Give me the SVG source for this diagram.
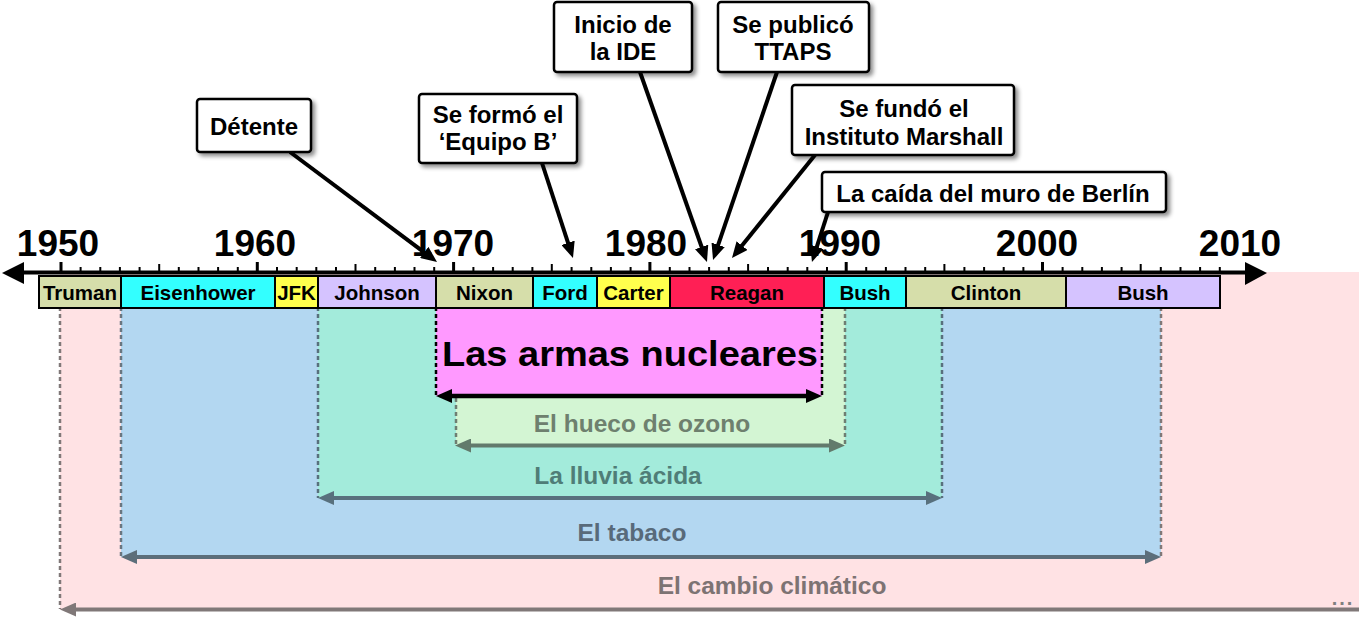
<svg xmlns="http://www.w3.org/2000/svg" width="1359" height="618" viewBox="0 0 1359 618">
<style>
text{font-family:"Liberation Sans",Arial,sans-serif;font-weight:bold;text-anchor:middle}
.yr{font-size:37px;fill:#000}
.pres rect{stroke:#000;stroke-width:2}
.pres text{font-size:20.5px;fill:#000}
.co rect{fill:#fff;stroke:#000;stroke-width:2.5;filter:url(#sh)}
.co text{font-size:24px;fill:#000}
.span{font-size:24.5px}
.dash{fill:none;stroke-width:2.5;stroke-dasharray:4 3}
.conn line{stroke:#000;stroke-width:4}
</style>
<defs>
<filter id="sh" x="-10%" y="-20%" width="130%" height="150%">
<feDropShadow dx="3" dy="3" stdDeviation="2" flood-color="#000" flood-opacity="0.45"/>
</filter>
<marker id="ab" markerUnits="userSpaceOnUse" markerWidth="16" markerHeight="14" viewBox="0 0 16 14" refX="8" refY="7" orient="auto-start-reverse"><path d="M0,0 L16,7 L0,14 z" fill="#000"/></marker>
<marker id="ao" markerUnits="userSpaceOnUse" markerWidth="16" markerHeight="14" viewBox="0 0 16 14" refX="8" refY="7" orient="auto-start-reverse"><path d="M0,0 L16,7 L0,14 z" fill="#627A6C"/></marker>
<marker id="al" markerUnits="userSpaceOnUse" markerWidth="16" markerHeight="14" viewBox="0 0 16 14" refX="8" refY="7" orient="auto-start-reverse"><path d="M0,0 L16,7 L0,14 z" fill="#58707D"/></marker>
<marker id="at" markerUnits="userSpaceOnUse" markerWidth="16" markerHeight="14" viewBox="0 0 16 14" refX="8" refY="7" orient="auto-start-reverse"><path d="M0,0 L16,7 L0,14 z" fill="#5C6E7A"/></marker>
<marker id="ac" markerUnits="userSpaceOnUse" markerWidth="16" markerHeight="14" viewBox="0 0 16 14" refX="8" refY="7" orient="auto-start-reverse"><path d="M0,0 L16,7 L0,14 z" fill="#807878"/></marker>
</defs>

<!-- Spans -->
<g id="span-cambio">
<rect x="60" y="272" width="1299" height="338" fill="#FFE2E4"/>
<line class="dash" x1="60" y1="300" x2="60" y2="609" stroke="#807878"/>
<line x1="68" y1="609.5" x2="1359" y2="609.5" stroke="#807878" stroke-width="4" marker-start="url(#ac)"/>
<text class="span" x="772" y="594" fill="#7D7373">El cambio climático</text>
<text x="1343" y="605" font-size="20" letter-spacing="2" fill="#7F7F7F">...</text>
</g>
<g id="span-tabaco">
<rect x="121" y="300" width="1040" height="257" fill="#B3D7F1"/>
<line class="dash" x1="121" y1="300" x2="121" y2="557" stroke="#6A7680"/>
<line class="dash" x1="1161" y1="300" x2="1161" y2="557" stroke="#807878"/>
<line x1="129" y1="557" x2="1153" y2="557" stroke="#5C6E7A" stroke-width="4" marker-start="url(#at)" marker-end="url(#at)"/>
<text class="span" x="632" y="541" fill="#586A7A">El tabaco</text>
</g>
<g id="span-lluvia">
<rect x="318" y="300" width="624" height="198" fill="#A3EBDB"/>
<line class="dash" x1="318" y1="300" x2="318" y2="498" stroke="#58707D"/>
<line class="dash" x1="942" y1="300" x2="942" y2="498" stroke="#58707D"/>
<line x1="326" y1="498" x2="934" y2="498" stroke="#58707D" stroke-width="4" marker-start="url(#al)" marker-end="url(#al)"/>
<text class="span" x="618" y="484" fill="#4F7D77">La lluvia ácida</text>
</g>
<g id="span-ozono">
<rect x="456" y="300" width="389" height="146" fill="#D3F5D3"/>
<line class="dash" x1="456" y1="300" x2="456" y2="446" stroke="#6E7E72"/>
<line class="dash" x1="845" y1="300" x2="845" y2="446" stroke="#6E7E72"/>
<line x1="463" y1="445.5" x2="837" y2="445.5" stroke="#627A6C" stroke-width="4" marker-start="url(#ao)" marker-end="url(#ao)"/>
<text class="span" x="642" y="432" fill="#6E806E">El hueco de ozono</text>
</g>
<g id="span-nucleares">
<rect x="436" y="300" width="386" height="96" fill="#FF99FF"/>
<line class="dash" x1="436" y1="300" x2="436" y2="396" stroke="#000"/>
<line class="dash" x1="822" y1="300" x2="822" y2="396" stroke="#000"/>
<line x1="444" y1="396" x2="814" y2="396" stroke="#000" stroke-width="4.5" marker-start="url(#ab)" marker-end="url(#ab)"/>
<text x="630" y="366" font-size="35" fill="#000" textLength="376" lengthAdjust="spacingAndGlyphs">Las armas nucleares</text>
</g>

<!-- Axis -->
<g id="axis">
<line x1="20" y1="272.5" x2="1248" y2="272.5" stroke="#000" stroke-width="4"/>
<polygon points="2,273 24,262 24,284" fill="#000"/>
<polygon points="1267,273 1245,262 1245,285" fill="#000"/>
<path d="M61,262V272M257.3,262V272M453.6,262V272M649.9,262V272M846.2,262V272M1042.5,262V272" stroke="#000" stroke-width="3"/>
<path d="M159.2,264V272M355.5,264V272M551.8,264V272M748.1,264V272M944.4,264V272M1140.7,264V272" stroke="#000" stroke-width="2"/>
<path d="M80.6,267V272M100.3,267V272M119.9,267V272M139.6,267V272M178.8,267V272M198.5,267V272M218.1,267V272M237.8,267V272M277,267V272M296.7,267V272M316.3,267V272M336,267V272M375.2,267V272M394.9,267V272M414.5,267V272M434.2,267V272M473.4,267V272M493.1,267V272M512.7,267V272M532.4,267V272M571.6,267V272M591.3,267V272M610.9,267V272M630.6,267V272M669.8,267V272M689.5,267V272M709.1,267V272M728.8,267V272M768,267V272M787.7,267V272M807.3,267V272M827,267V272M866.2,267V272M885.9,267V272M905.5,267V272M925.2,267V272M964.4,267V272M984.1,267V272M1003.7,267V272M1023.4,267V272M1062.6,267V272M1082.3,267V272M1101.9,267V272M1121.6,267V272M1160.8,267V272M1180.5,267V272M1200.1,267V272M1219.8,267V272" stroke="#000" stroke-width="2"/>
<text class="yr" x="58" y="256">1950</text>
<text class="yr" x="255" y="256">1960</text>
<text class="yr" x="453" y="256">1970</text>
<text class="yr" x="646" y="256">1980</text>
<text class="yr" x="840" y="256">1990</text>
<text class="yr" x="1037" y="256">2000</text>
<text class="yr" x="1240" y="256">2010</text>
</g>

<!-- Presidents -->
<g id="p-truman" class="pres"><rect x="39" y="276" width="82" height="32" fill="#D6DEAA"/><text x="80" y="300">Truman</text></g>
<g id="p-eisenhower" class="pres"><rect x="121" y="276" width="154" height="32" fill="#33FFFF"/><text x="198" y="300">Eisenhower</text></g>
<g id="p-jfk" class="pres"><rect x="275" y="276" width="43" height="32" fill="#FFFF4D"/><text x="296.5" y="300" font-size="19">JFK</text></g>
<g id="p-johnson" class="pres"><rect x="318" y="276" width="118" height="32" fill="#D5C3FF"/><text x="377" y="300">Johnson</text></g>
<g id="p-nixon" class="pres"><rect x="436" y="276" width="97" height="32" fill="#D6DEAA"/><text x="484.5" y="300">Nixon</text></g>
<g id="p-ford" class="pres"><rect x="533" y="276" width="64" height="32" fill="#33FFFF"/><text x="565" y="300">Ford</text></g>
<g id="p-carter" class="pres"><rect x="597" y="276" width="73" height="32" fill="#FFFF4D"/><text x="633.5" y="300">Carter</text></g>
<g id="p-reagan" class="pres"><rect x="670" y="276" width="154" height="32" fill="#FF1F55"/><text x="747" y="300">Reagan</text></g>
<g id="p-bush1" class="pres"><rect x="824" y="276" width="82" height="32" fill="#33FFFF"/><text x="865" y="300">Bush</text></g>
<g id="p-clinton" class="pres"><rect x="906" y="276" width="160" height="32" fill="#D6DEAA"/><text x="986" y="300">Clinton</text></g>
<g id="p-bush2" class="pres"><rect x="1066" y="276" width="154" height="32" fill="#D5C3FF"/><text x="1143" y="300">Bush</text></g>

<!-- Connectors -->
<g id="connectors" class="conn">
<line x1="290" y1="152" x2="430.6" y2="257.2" marker-end="url(#ab)"/>
<line x1="542" y1="163" x2="570.5" y2="250.4" marker-end="url(#ab)"/>
<line x1="640" y1="72" x2="704.3" y2="254.5" marker-end="url(#ab)"/>
<line x1="777" y1="72" x2="715.6" y2="252.4" marker-end="url(#ab)"/>
<line x1="815" y1="155" x2="737" y2="251.8" marker-end="url(#ab)"/>
<line x1="828" y1="212" x2="814.4" y2="254.4" marker-end="url(#ab)"/>
</g>

<!-- Callouts -->
<g id="c-detente" class="co"><rect x="197" y="99" width="114" height="53" rx="3"/><text x="254" y="135">Détente</text></g>
<g id="c-equipo" class="co"><rect x="419" y="94" width="158" height="69" rx="3"/><text x="498" y="123">Se formó el</text><text x="498" y="150">‘Equipo B’</text></g>
<g id="c-ide" class="co"><rect x="554" y="2" width="138" height="70" rx="3"/><text x="623" y="33">Inicio de</text><text x="623" y="60">la IDE</text></g>
<g id="c-ttaps" class="co"><rect x="718" y="2" width="151" height="70" rx="3"/><text x="793" y="33">Se publicó</text><text x="793" y="60">TTAPS</text></g>
<g id="c-marshall" class="co"><rect x="792" y="85" width="222" height="70" rx="3"/><text x="904" y="117">Se fundó el</text><text x="904" y="145">Instituto Marshall</text></g>
<g id="c-berlin" class="co"><rect x="822" y="172" width="344" height="40" rx="3"/><text x="993" y="202">La caída del muro de Berlín</text></g>
</svg>
